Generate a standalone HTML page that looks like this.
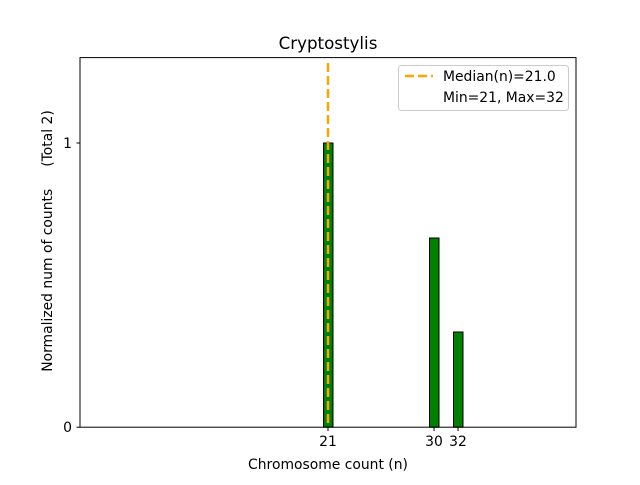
<!DOCTYPE html>
<html><head><meta charset="utf-8"><style>body{margin:0;background:#fff}</style></head><body>
<svg width="640" height="480" xmlns="http://www.w3.org/2000/svg" font-family="DejaVu Sans, Liberation Sans, sans-serif">
<rect width="640" height="480" fill="#fff"/>
<text x="328" y="49" font-size="16.7" text-anchor="middle">Cryptostylis</text>
<rect x="323.5" y="143" width="9.5" height="284.2" fill="green" stroke="#000" stroke-width="1"/>
<rect x="429.5" y="238" width="9.5" height="189.2" fill="green" stroke="#000" stroke-width="1"/>
<rect x="453.5" y="332" width="9.5" height="95.2" fill="green" stroke="#000" stroke-width="1"/>
<line x1="328" y1="63" x2="328" y2="427" stroke="orange" stroke-width="2.5" stroke-dasharray="9,4"/>
<rect x="80" y="57.6" width="496" height="369.6" fill="none" stroke="#000" stroke-width="1"/>
<g stroke="#000"><line x1="76.5" y1="427.2" x2="80" y2="427.2"/><line x1="76.5" y1="143" x2="80" y2="143"/>
<line x1="328" y1="427" x2="328" y2="431"/><line x1="434" y1="427" x2="434" y2="431"/><line x1="458" y1="427" x2="458" y2="431"/></g>
<g font-size="13.9" text-anchor="end"><text x="72" y="432">0</text><text x="72" y="148">1</text></g>
<g font-size="13.9" text-anchor="middle"><text x="328" y="446">21</text><text x="434" y="446">30</text><text x="458" y="446">32</text></g>
<text x="328" y="469" font-size="13.9" text-anchor="middle">Chromosome count (n)</text>
<text transform="translate(52,241) rotate(-90)" font-size="13.9" text-anchor="middle" xml:space="preserve">Normalized num of counts     (Total 2)</text>
<rect x="398.5" y="65.5" width="170" height="45" rx="3" fill="#fff" stroke="#ccc"/>
<line x1="405" y1="76" x2="433" y2="76" stroke="orange" stroke-width="2.5" stroke-dasharray="9,4"/>
<text x="443" y="81" font-size="13.9">Median(n)=21.0</text>
<text x="443" y="102" font-size="13.9">Min=21, Max=32</text>
</svg>
</body></html>
